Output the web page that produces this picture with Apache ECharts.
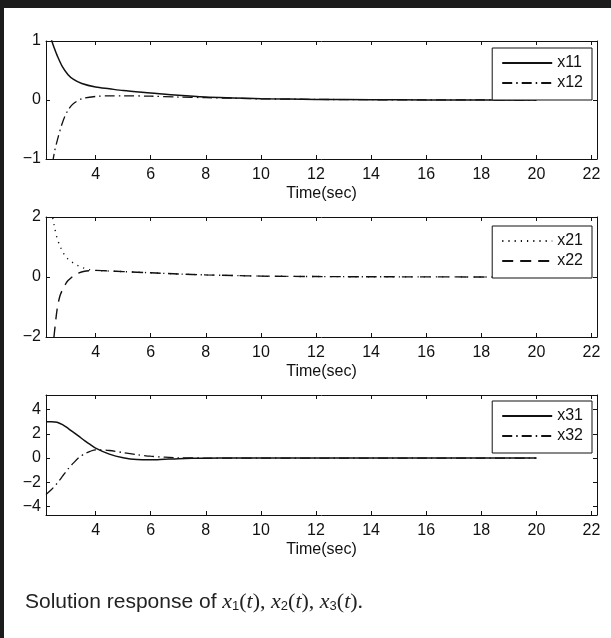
<!DOCTYPE html>
<html>
<head>
<meta charset="utf-8">
<script src="https://cdn.jsdelivr.net/npm/echarts@6/dist/echarts.min.js"></script>
<style>
  html, body { margin: 0; padding: 0; background: #fff; }
  #main { width: 611px; height: 638px; }
</style>
</head>
<body>
<div id="main"></div>
<script>
// time samples
var t1 = [2.2, 2.3, 2.4, 2.5, 2.6, 2.8, 3.0, 3.2, 3.5, 4, 4.5, 5, 6, 7, 8, 9, 10, 12, 14, 16, 18, 20];
var x11 = [1.6, 1.25, 1.02, 0.88, 0.76, 0.56, 0.43, 0.35, 0.28, 0.22, 0.19, 0.16, 0.12, 0.08, 0.05, 0.035, 0.022, 0.01, 0.005, 0.002, 0.001, 0];
var x12 = [-2.4, -1.7, -1.2, -0.9, -0.7, -0.38, -0.17, -0.06, 0.02, 0.06, 0.07, 0.07, 0.065, 0.05, 0.04, 0.03, 0.02, 0.01, 0.005, 0.002, 0.001, 0];

var t2 = [2.2, 2.3, 2.4, 2.5, 2.6, 2.7, 2.8, 2.9, 3.0, 3.2, 3.4, 3.6, 3.8, 4, 4.5, 5, 6, 7, 8, 9, 10, 12, 14, 16, 18, 20];
var x21 = [3.4, 2.7, 2.2, 1.7, 1.3, 1.05, 0.85, 0.7, 0.6, 0.46, 0.36, 0.29, 0.24, 0.22, 0.2, 0.18, 0.14, 0.1, 0.07, 0.05, 0.03, 0.015, 0.008, 0.004, 0.002, 0];
var x22 = [-5, -3.8, -2.8, -1.9, -1.1, -0.65, -0.42, -0.25, -0.12, 0.04, 0.14, 0.19, 0.21, 0.22, 0.2, 0.18, 0.14, 0.1, 0.07, 0.05, 0.03, 0.015, 0.008, 0.004, 0.002, 0];

var t3 = [2.2, 2.4, 2.6, 2.8, 3.0, 3.2, 3.4, 3.6, 3.8, 4, 4.5, 5, 5.5, 6, 6.5, 7, 8, 9, 10, 12, 14, 16, 18, 20];
var x31 = [3, 3, 2.95, 2.75, 2.45, 2.12, 1.78, 1.44, 1.12, 0.82, 0.32, 0.02, -0.13, -0.15, -0.1, -0.05, -0.01, 0, 0, 0, 0, 0, 0, 0];
var x32 = [-3, -2.6, -2.1, -1.5, -0.9, -0.4, 0.05, 0.35, 0.55, 0.68, 0.62, 0.45, 0.28, 0.15, 0.07, 0.02, 0, 0, 0, 0, 0, 0, 0, 0];

var xTicks = [4, 6, 8, 10, 12, 14, 16, 18, 20, 22];
var yTicks1 = [-1, 0, 1];
var yTicks2 = [-2, 0, 2];
var yTicks3 = [-4, -2, 0, 2, 4];

var font = 'Liberation Sans, Arial, sans-serif';
var ink = '#111';

function pairs(t, v) {
    return t.map(function (x, i) { return [x, v[i]]; });
}

var panels = [
    { top: 41, height: 118, ymin: -1, ymax: 1, yt: yTicks1, legendTop: 48 },
    { top: 217, height: 120, ymin: -2, ymax: 2, yt: yTicks2, legendTop: 226 },
    { top: 395, height: 120, ymin: -4.7, ymax: 5.2, yt: yTicks3, legendTop: 401 }
];

var grid = [], xAxis = [], yAxis = [], legend = [];
panels.forEach(function (p, i) {
    grid.push({ left: 46, right: 14, top: p.top, height: p.height });
    var lineCfg = { show: true, onZero: false, lineStyle: { color: ink, width: 1 } };
    xAxis.push({
        type: 'value', gridIndex: i, position: 'bottom', min: 2.2, max: 22.2,
        name: 'Time(sec)', nameLocation: 'middle', nameGap: 27,
        nameTextStyle: { fontFamily: font, fontSize: 16, color: ink },
        axisLine: lineCfg,
        axisTick: { inside: true, length: 4, customValues: xTicks, lineStyle: { color: ink } },
        axisLabel: { customValues: xTicks, margin: 8, fontFamily: font, fontSize: 16, color: ink },
        splitLine: { show: false }
    });
    xAxis.push({
        type: 'value', gridIndex: i, position: 'top', min: 2.2, max: 22.2,
        axisLine: lineCfg,
        axisTick: { inside: true, length: 4, customValues: xTicks, lineStyle: { color: ink } },
        axisLabel: { show: false },
        splitLine: { show: false }
    });
    yAxis.push({
        type: 'value', gridIndex: i, position: 'left', min: p.ymin, max: p.ymax,
        axisLine: lineCfg,
        axisTick: { inside: true, length: 4, customValues: p.yt, lineStyle: { color: ink } },
        axisLabel: {
            customValues: p.yt, margin: 5, fontFamily: font, fontSize: 16, color: ink,
            formatter: function (v) { return String(v).replace('-', '\u2212'); }
        },
        splitLine: { show: false }
    });
    yAxis.push({
        type: 'value', gridIndex: i, position: 'right', min: p.ymin, max: p.ymax,
        axisLine: lineCfg,
        axisTick: { inside: true, length: 4, customValues: p.yt, lineStyle: { color: ink } },
        axisLabel: { show: false },
        splitLine: { show: false }
    });
});

var names = [['x11', 'x12'], ['x21', 'x22'], ['x31', 'x32']];
names.forEach(function (n, i) {
    legend.push({
        data: n, orient: 'vertical', right: 19, top: panels[i].legendTop,
        itemWidth: 50, itemHeight: 14, itemGap: 4,
        padding: [7, 9, 9, 9],
        backgroundColor: '#fff', borderColor: ink, borderWidth: 1, borderRadius: 0,
        itemStyle: { color: 'transparent', borderColor: 'transparent', borderWidth: 0, opacity: 0 },
        textStyle: { fontFamily: font, fontSize: 16, color: ink }
    });
});

var solid = 'solid';
var dashDot = [10, 4, 1.5, 4];
var dotted = [1.2, 5];
var dashed = [11, 7];

function line(name, idx, t, v, type, w) {
    return {
        name: name, type: 'line', xAxisIndex: idx * 2, yAxisIndex: idx * 2,
        data: pairs(t, v), symbol: 'none', smooth: 0.3, clip: true,
        lineStyle: { color: ink, width: w, type: type },
        itemStyle: { color: ink }
    };
}

var series = [
    line('x11', 0, t1, x11, solid, 1.5),
    line('x12', 0, t1, x12, dashDot, 1.3),
    line('x21', 1, t2, x21, dotted, 1.4),
    line('x22', 1, t2, x22, dashed, 1.4),
    line('x31', 2, t3, x31, solid, 1.5),
    line('x32', 2, t3, x32, dashDot, 1.3)
];

var myChart = echarts.init(document.getElementById('main'), null, { renderer: 'canvas' });
var option = {
    backgroundColor: '#fff',
    animation: false,
    grid: grid,
    xAxis: xAxis,
    yAxis: yAxis,
    legend: legend,
    series: series,
    graphic: [
        { type: 'rect', left: 0, top: 0, shape: { width: 611, height: 8 }, style: { fill: '#1c1c1c' } },
        { type: 'rect', left: 0, top: 0, shape: { width: 4, height: 638 }, style: { fill: '#1c1c1c' } },
        {
            type: 'text', left: 25, top: 591,
            style: {
                text: '{a|Solution response of }{m|x}{s|1}{p|(}{m|t}{p|), }{m|x}{s|2}{p|(}{m|t}{p|), }{m|x}{s|3}{p|(}{m|t}{p|).}',
                rich: {
                    a: { fontFamily: 'Liberation Sans Narrow, Liberation Sans, sans-serif', fontSize: 21, fill: '#222', verticalAlign: 'bottom', lineHeight: 24 },
                    m: { fontFamily: 'Liberation Serif, serif', fontStyle: 'italic', fontSize: 22, fill: '#222', verticalAlign: 'bottom', lineHeight: 24 },
                    p: { fontFamily: 'Liberation Serif, serif', fontSize: 22, fill: '#222', verticalAlign: 'bottom', lineHeight: 24 },
                    s: { fontFamily: 'Liberation Sans, sans-serif', fontSize: 13, fill: '#222', verticalAlign: 'bottom', lineHeight: 18 }
                }
            }
        }
    ]
};
myChart.setOption(option);
</script>
</body>
</html>
